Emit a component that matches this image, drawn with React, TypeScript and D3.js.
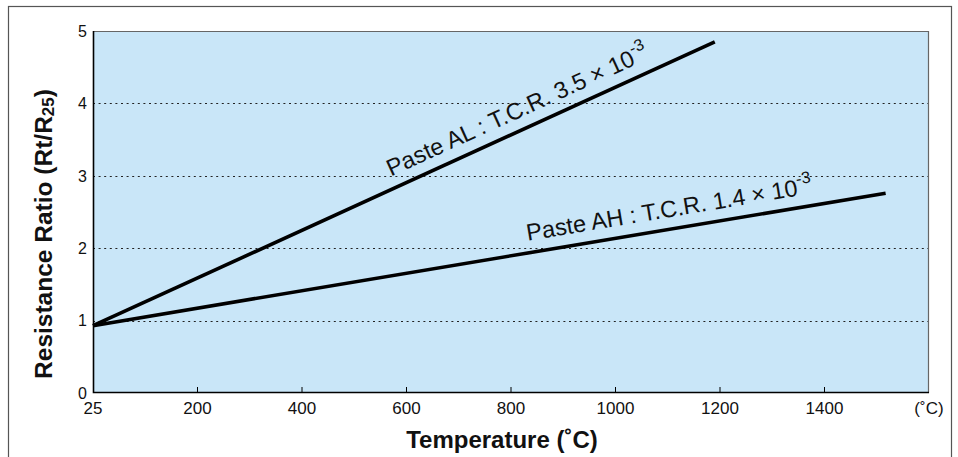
import React, { useEffect, useRef } from "react";
import * as d3 from "d3";

// x tick positions (temperature) and what is printed under them
const xTicks = [25, 200, 400, 600, 800, 1000, 1200, 1400, 1600];
const xTickLabels = ["25", "200", "400", "600", "800", "1000", "1200", "1400", "(˚C)"];
const yTicks = [0, 1, 2, 3, 4, 5];
const gridTicks = [1, 2, 3, 4];

// series
const pasteALTemp = [25, 1190];
const pasteALRatio = [0.93, 4.85];
const pasteAHTemp = [25, 1517];
const pasteAHRatio = [0.93, 2.76];

const series = [
  { name: "Paste AL : T.C.R. 3.5", tcr: "-3", temp: pasteALTemp, ratio: pasteALRatio, labelAt: 580 },
  { name: "Paste AH : T.C.R. 1.4", tcr: "-3", temp: pasteAHTemp, ratio: pasteAHRatio, labelAt: 836 },
];

const W = 958;
const H = 457;
const margin = { top: 31, right: 29, bottom: 64, left: 93 };

export default function App() {
  const ref = useRef<SVGSVGElement>(null);

  useEffect(() => {
    const svg = d3.select(ref.current);
    svg.selectAll("*").remove();

    const width = W - margin.left - margin.right;
    const height = H - margin.top - margin.bottom;
    const font = "Arial, 'Liberation Sans', Helvetica, sans-serif";

    // outer frame
    svg
      .append("rect")
      .attr("x", 8.5)
      .attr("y", 6.5)
      .attr("width", 943)
      .attr("height", 470)
      .attr("fill", "white")
      .attr("stroke", "#555")
      .attr("stroke-width", 1.2);

    const g = svg
      .append("g")
      .attr("transform", `translate(${margin.left},${margin.top})`);

    // the first tick is labelled 25 but sits at the origin
    const x = d3
      .scaleLinear()
      .domain([25, 200, 1600])
      .range([0, (width * 200) / 1600, width]);
    const y = d3.scaleLinear().domain([0, 5]).range([height, 0]);

    g.append("rect")
      .attr("width", width)
      .attr("height", height)
      .attr("fill", "#c9e6f8");

    // dotted grid
    g.selectAll(".grid")
      .data(gridTicks)
      .enter()
      .append("line")
      .attr("x1", 0)
      .attr("x2", width)
      .attr("y1", (d) => Math.round(y(d)) + 0.5)
      .attr("y2", (d) => Math.round(y(d)) + 0.5)
      .attr("stroke", "#222")
      .attr("stroke-width", 1)
      .attr("stroke-dasharray", "2,3.6");

    // top / right border
    g.append("path")
      .attr("d", `M0,0.5H${width - 0.5}V${height}`)
      .attr("fill", "none")
      .attr("stroke", "#666")
      .attr("stroke-width", 1.2);

    // x ticks (inward)
    g.selectAll(".xtick")
      .data(xTicks.slice(1, -1))
      .enter()
      .append("line")
      .attr("x1", (d) => x(d))
      .attr("x2", (d) => x(d))
      .attr("y1", height)
      .attr("y2", height - 6)
      .attr("stroke", "#000")
      .attr("stroke-width", 1);

    // axes lines
    g.append("path")
      .attr("d", `M0.5,0V${height - 0.5}H${width}`)
      .attr("fill", "none")
      .attr("stroke", "#000")
      .attr("stroke-width", 1.6);

    // x tick labels
    g.selectAll(".xlab")
      .data(xTicks)
      .enter()
      .append("text")
      .attr("x", (d) => x(d))
      .attr("y", height + 21)
      .attr("text-anchor", "middle")
      .attr("font-family", font)
      .attr("font-size", 17)
      .attr("fill", "#111")
      .text((d, i) => xTickLabels[i]);

    // y tick labels
    g.selectAll(".ylab")
      .data(yTicks)
      .enter()
      .append("text")
      .attr("x", -6)
      .attr("y", (d) => y(d))
      .attr("dy", "0.36em")
      .attr("text-anchor", "end")
      .attr("font-family", font)
      .attr("font-size", 16)
      .attr("fill", "#111")
      .text((d) => d);

    series.forEach((s) => {
      const pts: [number, number][] = s.temp.map((t, i) => [x(t), y(s.ratio[i])]);
      g.append("path")
        .attr("d", d3.line()(pts))
        .attr("fill", "none")
        .attr("stroke", "#000")
        .attr("stroke-width", 3.6);

      // label along the line
      const [x0, y0] = pts[0];
      const [x1, y1] = pts[1];
      const angle = (Math.atan2(y1 - y0, x1 - x0) * 180) / Math.PI;
      const lx = x(s.labelAt);
      const ly = y0 + ((lx - x0) * (y1 - y0)) / (x1 - x0);
      const t = g
        .append("text")
        .attr("transform", `translate(${lx},${ly}) rotate(${angle})`)
        .attr("y", -12)
        .attr("font-family", font)
        .attr("font-size", 23.5)
        .attr("fill", "#111");
      t.append("tspan").text(s.name + " × 10");
      t.append("tspan")
        .attr("dy", -11)
        .attr("font-size", 16.5)
        .text(s.tcr);
    });

    // axis titles
    svg
      .append("text")
      .attr("x", 502)
      .attr("y", 448)
      .attr("text-anchor", "middle")
      .attr("font-family", font)
      .attr("font-weight", "bold")
      .attr("font-size", 24)
      .attr("fill", "#111")
      .text("Temperature (˚C)");

    const yt = svg
      .append("text")
      .attr("transform", "translate(52,234) rotate(-90)")
      .attr("text-anchor", "middle")
      .attr("font-family", font)
      .attr("font-weight", "bold")
      .attr("font-size", 24.5)
      .attr("fill", "#111");
    yt.append("tspan").text("Resistance Ratio (Rt/R");
    yt.append("tspan").attr("font-size", 17).attr("dy", 2).text("25");
    yt.append("tspan").attr("dy", -2).text(")");
  }, []);

  return (
    <svg
      ref={ref}
      width={W}
      height={H}
      style={{ position: "absolute", left: 0, top: 0 }}
    />
  );
}
